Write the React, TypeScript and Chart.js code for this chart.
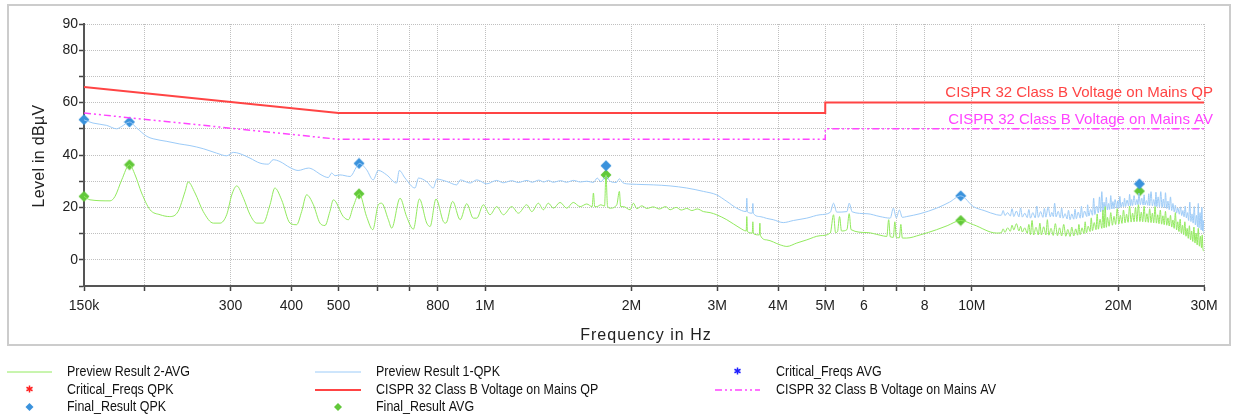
import React, { useEffect, useRef } from 'react';
import { Chart, registerables } from 'chart.js';
Chart.register(...registerables);

// ---------- axis ticks ----------
const xTickValues = [0.15, 0.2, 0.3, 0.4, 0.5, 0.6, 0.7, 0.8, 1, 2, 3, 4, 5, 6, 7, 8, 10, 20, 30];
const xTickLabels = ['150k', '', '300', '400', '500', '', '', '800', '1M', '2M', '3M', '4M', '5M', '6', '', '8', '10M', '20M', '30M'];
const yLabeledTicks = [0, 20, 40, 60, 80, 90];

// ---------- limit lines (MHz, dBµV) ----------
const limitQPFreqs = [0.15, 0.5, 5, 5, 30];
const limitQPLevels = [66, 56, 56, 60, 60];
const limitAVFreqs = [0.15, 0.5, 5, 5, 30];
const limitAVLevels = [56, 46, 46, 50, 50];

// ---------- final results ----------
const finalFreqs = [0.15, 0.186, 0.551, 1.772, 9.49, 22.1];
const finalQPKLevels = [53.5, 52.6, 36.8, 35.9, 24.4, 29.0];
const finalAVGLevels = [24.2, 36.3, 25.2, 32.4, 15.0, 26.2];

// ---------- preview scans [MHz, dBµV] ----------
const previewQPK: number[][] = [
  [0.150, 53.4], [0.1565, 52.2], [0.167, 51.3], [0.175, 50.0], [0.1793, 50.9], [0.186, 52.6], [0.1925, 50.3],
  [0.202, 47.1], [0.208, 46.2], [0.222, 45.2], [0.236, 44.2], [0.2476, 43.6], [0.2637, 42.4], [0.281, 40.7],
  [0.2946, 39.7], [0.304, 41.0], [0.3138, 40.5], [0.329, 38.8], [0.345, 36.9], [0.3587, 36.5], [0.367, 38.2],
  [0.379, 37.5], [0.3975, 35.2], [0.413, 34.1], [0.4337, 35.0], [0.444, 34.4], [0.458, 32.7], [0.4765, 31.4],
  [0.484, 33.1], [0.492, 32.1], [0.5035, 32.4], [0.528, 31.8], [0.545, 35.6], [0.5516, 36.8], [0.571, 34.4],
  [0.589, 30.5], [0.6036, 34.1], [0.628, 32.4], [0.658, 29.3], [0.6666, 34.1], [0.685, 31.2], [0.718, 27.4],
  [0.730, 31.2], [0.759, 29.8], [0.783, 27.4], [0.796, 30.8], [0.834, 29.9], [0.875, 28.6], [0.889, 30.5],
  [0.932, 29.3], [0.962, 30.5], [1.008, 29.0], [1.057, 30.3], [1.09, 29.4], [1.135, 30.2], [1.17, 29.5],
  [1.22, 30.3], [1.25, 29.6], [1.29, 30.4], [1.32, 29.7], [1.35, 30.3], [1.38, 29.6], [1.43, 30.2], [1.47, 29.6],
  [1.52, 30.3], [1.57, 29.7], [1.62, 30.0], [1.67, 29.5], [1.70, 31.2], [1.73, 29.8], [1.772, 31.8], [1.81, 29.9],
  [1.86, 29.5], [1.888, 30.9], [1.92, 29.4], [1.986, 28.9], [2.05, 28.8], [2.217, 28.6], [2.40, 28.2],
  [2.597, 27.4], [2.81, 26.1], [2.99, 24.8], [3.138, 22.3], [3.29, 19.7], [3.44, 18.4], [3.45, 23.5], [3.46, 18.3],
  [3.54, 17.8], [3.55, 21.5], [3.56, 17.7], [3.674, 16.5], [3.79, 15.8], [3.91, 15.3], [4.10, 14.2], [4.30, 15.0],
  [4.58, 15.9], [4.88, 17.2], [5.12, 18.1], [5.2, 21.6], [5.28, 18.2], [5.54, 18.4], [5.6, 21.6], [5.68, 18.3],
  [6.09, 17.6], [6.48, 16.5], [6.80, 15.9], [6.9, 19.7], [7.0, 16.0], [7.1, 19.0], [7.2, 16.2], [7.35, 16.5],
  [7.83, 17.6], [8.47, 19.7], [9.0, 22.0], [9.49, 24.4], [10.08, 20.3], [10.6, 18.8], [11.25, 17.2],
  [11.5, 17.0], [11.6, 18.8], [11.7, 16.9], [11.85, 18.0], [12.0, 16.7], [12.1, 19.5], [12.2, 16.5], [12.35, 18.6],
  [12.5, 16.4], [12.6, 19.8], [12.7, 16.3], [12.85, 17.8], [13.0, 16.1], [13.1, 19.2], [13.2, 15.9], [13.35, 18.0],
  [13.5, 16.0], [13.6, 20.5], [13.7, 16.2], [13.85, 18.4], [14.0, 16.2], [14.1, 19.6], [14.2, 16.3], [14.35, 20.2],
  [14.5, 16.4], [14.6, 18.1], [14.71, 16.5], [14.8, 21.6], [14.9, 16.4], [15.05, 18.5], [15.2, 16.0], [15.3, 19.8],
  [15.4, 15.9], [15.55, 17.6], [15.7, 15.6], [15.8, 18.9], [15.92, 15.3], [16.05, 17.5], [16.2, 15.5], [16.3, 19.3],
  [16.4, 15.7], [16.55, 18.2], [16.7, 15.9], [16.8, 20.4], [16.9, 16.1], [17.05, 18.6], [17.23, 16.5], [17.3, 21.0],
  [17.4, 16.7], [17.55, 19.2], [17.7, 17.0], [17.8, 23.5], [17.9, 17.3], [18.05, 20.5], [18.2, 17.9], [18.3, 24.0],
  [18.4, 18.3], [18.5, 26.0], [18.6, 18.5], [18.7, 22.0], [18.8, 18.9], [18.9, 23.8], [19.0, 19.0], [19.1, 21.5],
  [19.2, 19.2], [19.3, 24.5], [19.4, 19.4], [19.5, 22.2], [19.6, 19.5], [19.7, 23.0], [19.86, 19.7], [19.95, 22.5],
  [20.05, 19.8], [20.15, 24.2], [20.25, 20.0], [20.4, 22.0], [20.5, 20.2], [20.6, 23.5], [20.7, 20.3], [20.85, 22.8],
  [21.0, 20.5], [21.1, 25.0], [21.2, 20.6], [21.3, 23.0], [21.4, 20.7], [21.55, 24.5], [21.7, 20.9], [21.84, 23.0],
  [21.95, 21.0], [22.05, 25.5], [22.2, 21.0], [22.35, 23.5], [22.5, 20.9], [22.6, 24.8], [22.7, 20.9], [22.85, 22.6],
  [23.0, 20.8], [23.1, 25.2], [23.2, 20.7], [23.35, 26.0], [23.5, 20.6], [23.65, 23.0], [23.8, 20.4], [23.9, 25.8],
  [24.0, 20.3], [24.15, 24.0], [24.3, 20.2], [24.45, 26.0], [24.6, 20.0], [24.75, 23.2], [24.9, 19.8], [25.0, 25.6],
  [25.15, 19.6], [25.3, 22.4], [25.45, 19.1], [25.6, 24.0], [25.75, 18.8], [25.9, 21.5], [26.05, 18.3], [26.2, 20.8],
  [26.35, 17.8], [26.5, 19.8], [26.7, 17.4], [26.85, 20.2], [27.0, 16.9], [27.15, 18.8], [27.3, 16.4], [27.45, 20.5],
  [27.6, 16.0], [27.75, 18.0], [27.9, 15.0], [28.05, 22.0], [28.2, 14.6], [28.35, 17.5], [28.5, 14.0], [28.65, 20.3],
  [28.8, 13.3], [28.95, 17.0], [29.1, 12.6], [29.2, 21.5], [29.3, 12.2], [29.45, 18.0], [29.6, 11.4], [29.7, 20.0],
  [29.8, 11.0], [29.9, 15.0], [30.0, 10.2],
];

const previewAVG: number[][] = [
  [0.150, 24.2], [0.1543, 22.9], [0.1697, 22.5], [0.1737, 24.2], [0.1793, 30.5], [0.186, 36.3], [0.191, 32.4],
  [0.197, 25.5], [0.205, 19.1], [0.215, 17.2], [0.225, 16.5], [0.234, 18.4], [0.242, 26.1], [0.2455, 29.7],
  [0.2536, 25.5], [0.2637, 18.4], [0.2766, 14.0], [0.2855, 14.0], [0.2946, 17.2], [0.3018, 24.8], [0.309, 28.2],
  [0.319, 23.5], [0.329, 17.2], [0.3396, 14.0], [0.350, 14.0], [0.3616, 21.0], [0.370, 27.4], [0.382, 22.9],
  [0.3975, 14.0], [0.410, 13.4], [0.420, 18.4], [0.430, 24.8], [0.444, 21.0], [0.458, 14.0], [0.469, 13.1],
  [0.480, 18.4], [0.488, 22.9], [0.5115, 16.5], [0.524, 15.3], [0.536, 20.3], [0.5516, 25.2], [0.571, 16.5],
  [0.588, 11.5], [0.6036, 21.0], [0.613, 21.6], [0.633, 15.3], [0.643, 12.1], [0.669, 23.5], [0.690, 16.5],
  [0.7125, 11.7], [0.733, 23.2], [0.759, 14.0], [0.771, 12.7], [0.793, 23.2], [0.821, 14.6], [0.831, 14.0],
  [0.858, 22.3], [0.889, 15.3], [0.917, 21.4], [0.946, 15.9], [0.962, 15.9], [0.992, 21.0], [1.024, 17.2],
  [1.057, 20.3], [1.091, 17.2], [1.135, 20.3], [1.171, 17.8], [1.218, 21.0], [1.248, 18.4], [1.287, 21.6],
  [1.318, 19.1], [1.349, 21.6], [1.382, 19.7], [1.426, 21.9], [1.472, 19.7], [1.518, 21.9], [1.568, 20.3],
  [1.618, 21.3], [1.66, 20.3], [1.670, 25.5], [1.68, 20.3], [1.697, 20.3], [1.73, 21.0], [1.76, 20.5],
  [1.772, 32.4], [1.785, 20.5], [1.806, 19.7], [1.865, 21.0], [1.888, 26.1], [1.90, 20.3], [1.925, 20.3],
  [1.986, 19.1], [2.018, 21.6], [2.05, 19.5], [2.1, 20.6], [2.15, 19.6], [2.217, 20.2], [2.28, 19.4], [2.35, 20.3],
  [2.40, 19.1], [2.47, 20.0], [2.53, 19.0], [2.597, 19.6], [2.66, 18.8], [2.73, 19.4], [2.81, 18.4], [2.9, 18.0],
  [2.99, 17.2], [3.138, 15.3], [3.342, 12.1], [3.44, 11.0], [3.45, 16.5], [3.46, 10.8], [3.54, 10.2], [3.55, 14.5],
  [3.56, 10.0], [3.66, 9.5], [3.67, 14.0], [3.68, 9.3], [3.79, 7.6], [4.04, 5.7], [4.17, 5.1], [4.37, 6.4],
  [4.58, 7.6], [4.88, 9.2], [5.12, 10.2], [5.2, 17.2], [5.25, 10.4], [5.3, 10.8], [5.35, 16.5], [5.4, 11.0],
  [5.54, 11.5], [5.6, 17.6], [5.65, 11.5], [6.09, 10.4], [6.48, 9.4], [6.69, 8.9], [6.75, 15.3], [6.8, 8.8],
  [6.9, 8.6], [6.95, 14.5], [7.0, 8.5], [7.1, 8.4], [7.15, 13.5], [7.2, 8.3], [7.35, 8.3], [7.83, 9.5],
  [8.47, 11.5], [8.9, 13.0], [9.49, 15.0], [10.08, 13.4], [11.25, 10.2],
  [11.5, 10.3], [11.6, 11.8], [11.7, 10.5], [11.85, 12.2], [12.0, 10.9], [12.1, 13.2], [12.2, 11.4], [12.35, 13.8],
  [12.5, 11.0], [12.6, 12.8], [12.7, 10.6], [12.85, 12.2], [13.0, 10.1], [13.1, 13.5], [13.2, 9.6], [13.3, 15.0],
  [13.4, 9.5], [13.55, 12.4], [13.7, 9.5], [13.8, 14.0], [13.9, 9.5], [14.05, 12.6], [14.2, 9.5], [14.3, 15.3],
  [14.4, 9.4], [14.55, 12.0], [14.7, 9.3], [14.85, 13.8], [15.0, 9.2], [15.15, 12.2], [15.3, 9.1], [15.45, 13.5],
  [15.6, 9.0], [15.75, 11.6], [15.92, 8.9], [16.05, 12.5], [16.2, 9.1], [16.35, 11.8], [16.5, 9.4], [16.6, 13.5],
  [16.7, 9.6], [16.85, 12.2], [17.0, 10.0], [17.1, 14.5], [17.2, 10.3], [17.35, 12.8], [17.5, 10.8], [17.6, 16.0],
  [17.7, 11.1], [17.85, 14.2], [18.0, 11.5], [18.1, 17.5], [18.2, 11.7], [18.35, 15.5], [18.5, 12.0], [18.6, 19.0],
  [18.7, 12.2], [18.8, 20.3], [18.9, 12.4], [19.0, 16.2], [19.15, 12.8], [19.3, 18.0], [19.45, 13.2], [19.6, 16.6],
  [19.75, 13.5], [19.9, 19.5], [20.05, 13.7], [20.2, 17.0], [20.35, 13.9], [20.5, 19.0], [20.65, 14.1], [20.8, 17.4],
  [20.95, 14.3], [21.1, 20.5], [21.25, 14.4], [21.4, 17.8], [21.55, 14.5], [21.7, 20.0], [21.84, 14.6], [22.0, 21.0],
  [22.15, 14.6], [22.3, 18.2], [22.45, 14.5], [22.6, 20.4], [22.75, 14.4], [22.9, 17.6], [23.05, 14.3], [23.2, 19.5],
  [23.35, 14.2], [23.5, 17.8], [23.65, 14.1], [23.8, 20.3], [23.95, 14.0], [24.1, 17.2], [24.25, 13.8], [24.4, 19.0],
  [24.55, 13.6], [24.7, 16.8], [24.85, 13.4], [25.0, 18.5], [25.15, 13.2], [25.3, 16.0], [25.45, 12.9], [25.6, 17.0],
  [25.75, 12.5], [25.9, 15.2], [26.05, 12.0], [26.2, 18.0], [26.35, 11.4], [26.5, 14.5], [26.65, 10.8], [26.8, 15.5],
  [26.95, 10.2], [27.1, 13.2], [27.25, 9.6], [27.4, 14.5], [27.55, 9.0], [27.7, 12.0], [27.85, 8.2], [28.0, 13.0],
  [28.15, 7.6], [28.3, 11.0], [28.45, 7.0], [28.6, 12.5], [28.75, 6.4], [28.9, 10.2], [29.05, 5.7], [29.2, 12.0],
  [29.35, 5.2], [29.5, 9.0], [29.65, 4.6], [29.75, 9.5], [29.85, 4.2], [30.0, 3.2],
];

// ---------- labels ----------
const titleX = 'Frequency in Hz';
const titleY = 'Level in dBµV';
const legendOrder = [2, 3, 5, 4, 0, 1, 6, 7];

const pts = (fs: number[], vs: number[]) => fs.map((f, i) => ({ x: f, y: vs[i] }));
const pairs = (a: number[][]) => a.map(([f, v]) => ({ x: f, y: v }));

const FONT = '"Liberation Sans", Arial, sans-serif';

function drawStar(ctx: CanvasRenderingContext2D, x: number, y: number, r: number, color: string) {
  ctx.save();
  ctx.strokeStyle = color;
  ctx.lineWidth = 1.5;
  ctx.beginPath();
  for (let k = 0; k < 3; k++) {
    const a = (Math.PI / 3) * k + Math.PI / 2;
    ctx.moveTo(x - Math.cos(a) * r, y - Math.sin(a) * r);
    ctx.lineTo(x + Math.cos(a) * r, y + Math.sin(a) * r);
  }
  ctx.stroke();
  ctx.restore();
}

function drawDiamond(ctx: CanvasRenderingContext2D, x: number, y: number, r: number, color: string) {
  ctx.save();
  ctx.fillStyle = color;
  ctx.beginPath();
  ctx.moveTo(x, y - r);
  ctx.lineTo(x + r, y);
  ctx.lineTo(x, y + r);
  ctx.lineTo(x - r, y);
  ctx.closePath();
  ctx.fill();
  ctx.restore();
}

function diamondImage(color: string) {
  const c = document.createElement('canvas');
  c.width = 12;
  c.height = 12;
  const g = c.getContext('2d') as CanvasRenderingContext2D;
  drawDiamond(g, 6, 6, 5.5, color);
  return c;
}

const decor = {
  id: 'emcDecor',
  beforeDraw(chart: any) {
    const ctx = chart.ctx;
    ctx.save();
    ctx.fillStyle = '#ffffff';
    ctx.fillRect(0, 0, chart.width, chart.height);
    ctx.strokeStyle = '#cccccc';
    ctx.lineWidth = 2;
    ctx.strokeRect(8, 5, 1222, 340);
    ctx.restore();
  },
  afterDraw(chart: any) {
    const ctx = chart.ctx;
    const ds = chart.data.datasets;
    ctx.save();
    // axis titles
    ctx.fillStyle = '#222';
    ctx.font = '16px ' + FONT;
    ctx.textAlign = 'center';
    ctx.textBaseline = 'middle';
    (ctx as any).letterSpacing = '1px';
    ctx.fillText(titleX, 646, 336);
    (ctx as any).letterSpacing = '0.3px';
    ctx.save();
    ctx.translate(40, 156);
    ctx.rotate(-Math.PI / 2);
    ctx.fillText(titleY, 0, 0);
    ctx.restore();
    (ctx as any).letterSpacing = '0px';

    // limit line labels
    ctx.font = '15px ' + FONT;
    ctx.textAlign = 'right';
    ctx.fillStyle = ds[0].borderColor;
    ctx.fillText(ds[0].label, 1213, 93);
    ctx.fillStyle = ds[1].borderColor;
    ctx.fillText(ds[1].label, 1213, 120);

    // legend
    const sampleX0 = [7, 315, 715];
    const sampleX1 = [52, 361, 760];
    const textX = [67, 376, 776];
    const rowY = [372, 390, 407];
    ctx.font = '14px ' + FONT;
    ctx.textAlign = 'left';
    ctx.textBaseline = 'middle';
    legendOrder.forEach((di, slot) => {
      const d = ds[di];
      const col = slot % 3;
      const row = Math.floor(slot / 3);
      const y = rowY[row];
      const cx = (sampleX0[col] + sampleX1[col]) / 2;
      if (d.showLine === false) {
        if (d.markerKind === 'star') drawStar(ctx, cx, y - 1, 3.5, d.borderColor);
        else drawDiamond(ctx, cx, y, 4, d.backgroundColor);
      } else {
        ctx.save();
        ctx.strokeStyle = d.borderColor;
        ctx.lineWidth = d.borderWidth;
        ctx.setLineDash(d.borderDash || []);
        ctx.beginPath();
        ctx.moveTo(sampleX0[col], y);
        ctx.lineTo(sampleX1[col], y);
        ctx.stroke();
        ctx.restore();
      }
      ctx.save();
      ctx.translate(textX[col], y);
      ctx.scale(0.89, 1);
      ctx.fillStyle = '#111';
      ctx.fillText(d.label, 0, 0);
      ctx.restore();
    });
    ctx.restore();
  },
};

export default function App() {
  const ref = useRef<HTMLCanvasElement | null>(null);
  useEffect(() => {
    if (!ref.current) return;
    const tickFont = { family: FONT, size: 14 };
    const gridOpts = { color: '#c0c0c0', lineWidth: 1, tickLength: 5, tickColor: '#444', tickWidth: 1.5, tickBorderDash: [] };
    const borderOpts = { display: true, color: '#555', width: 2, dash: [1, 1] };
    const chart = new Chart(ref.current, {
      type: 'line',
      data: {
        datasets: [
          { label: 'CISPR 32 Class B Voltage on Mains QP', data: pts(limitQPFreqs, limitQPLevels), borderColor: '#ff4444', borderWidth: 2, pointRadius: 0 },
          { label: 'CISPR 32 Class B Voltage on Mains AV', data: pts(limitAVFreqs, limitAVLevels), borderColor: '#ff44ff', borderWidth: 1.5, borderDash: [7, 3, 2, 3, 2, 3], pointRadius: 0 },
          { label: 'Preview Result 2-AVG', data: pairs(previewAVG), borderColor: '#92ea5e', borderWidth: 1, pointRadius: 0, cubicInterpolationMode: 'monotone' },
          { label: 'Preview Result 1-QPK', data: pairs(previewQPK), borderColor: '#9ccbf8', borderWidth: 1, pointRadius: 0, cubicInterpolationMode: 'monotone' },
          { label: 'Critical_Freqs QPK', data: [], showLine: false, markerKind: 'star', pointStyle: 'star', borderColor: '#ff2020', backgroundColor: '#ff2020' },
          { label: 'Critical_Freqs AVG', data: [], showLine: false, markerKind: 'star', pointStyle: 'star', borderColor: '#2020ff', backgroundColor: '#2020ff' },
          { label: 'Final_Result QPK', data: pts(finalFreqs, finalQPKLevels), showLine: false, markerKind: 'diamond', pointStyle: diamondImage('#3a92dc'), pointRadius: 6, borderWidth: 0, backgroundColor: '#3a92dc', borderColor: '#3a92dc', clip: false },
          { label: 'Final_Result AVG', data: pts(finalFreqs, finalAVGLevels), showLine: false, markerKind: 'diamond', pointStyle: diamondImage('#62c83a'), pointRadius: 6, borderWidth: 0, backgroundColor: '#62c83a', borderColor: '#62c83a', clip: false },
        ] as any,
      },
      options: {
        responsive: false,
        animation: false,
        devicePixelRatio: 1,
        layout: { padding: { left: 0, right: 29, top: 24, bottom: 0 } },
        plugins: { legend: { display: false }, tooltip: { enabled: false } },
        elements: { line: { tension: 0 } },
        scales: {
          x: {
            type: 'logarithmic',
            min: 0.15,
            max: 30,
            afterBuildTicks: (s: any) => { s.ticks = xTickValues.map((v) => ({ value: v })); },
            afterFit: (s: any) => { s.height = 133; },
            ticks: {
              autoSkip: false, maxRotation: 0, minRotation: 0, padding: 7, color: '#222', font: tickFont,
              callback: (_v: any, i: number) => xTickLabels[i],
            },
            grid: gridOpts,
            border: borderOpts,
          },
          y: {
            type: 'linear',
            min: -10,
            max: 90,
            afterFit: (s: any) => { s.width = 84; },
            ticks: {
              stepSize: 10, autoSkip: false, padding: 1, color: '#222', font: tickFont,
              callback: (v: any) => (yLabeledTicks.includes(Math.round(v)) ? String(Math.round(v)) : ''),
            },
            grid: gridOpts,
            border: borderOpts,
          },
        },
      } as any,
      plugins: [decor],
    });
    return () => chart.destroy();
  }, []);
  return (
    <div style={{ position: 'absolute', left: 0, top: 0, width: 1233, height: 419 }}>
      <canvas ref={ref} width={1233} height={419} style={{ display: 'block', width: 1233, height: 419 }} />
    </div>
  );
}
